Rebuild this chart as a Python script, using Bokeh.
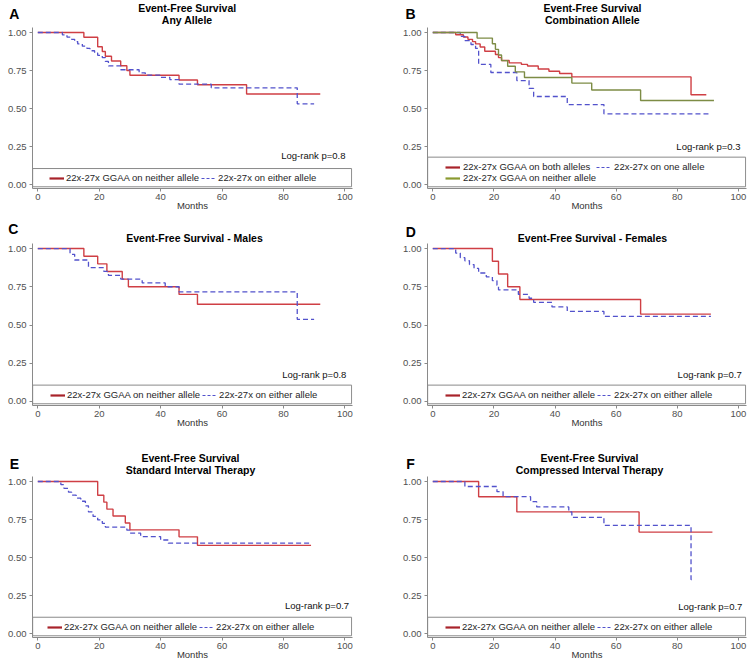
from bokeh.plotting import figure
from bokeh.models import Range1d, FixedTicker, Label, BoxAnnotation, Legend, LegendItem, PrintfTickFormatter
from bokeh.layouts import column, row
from bokeh.embed import file_html
from bokeh.resources import INLINE

FONT = "Liberation Sans"

# ---------------- data (months, survival probability) ----------------
x_ticks = [0, 20, 40, 60, 80, 100]
y_ticks = [0.0, 0.25, 0.5, 0.75, 1.0]

A_neither_t = [0, 15, 19.5, 21, 22, 24, 27, 29, 30, 46, 52, 68, 92]
A_neither_s = [1.0, 0.969, 0.906, 0.875, 0.844, 0.813, 0.781, 0.75, 0.719, 0.688, 0.656, 0.595, 0.595]
A_either_t = [0, 8, 9.5, 11, 12, 13, 14.5, 16, 17, 18.5, 19.5, 21, 22, 23, 27, 33, 35, 40, 43, 46, 56.5, 84.5, 90]
A_either_s = [1.0, 0.985, 0.97, 0.955, 0.94, 0.925, 0.91, 0.895, 0.88, 0.865, 0.85, 0.835, 0.81, 0.78,
              0.755, 0.735, 0.72, 0.705, 0.69, 0.66, 0.636, 0.531, 0.531]

B_both_t = [0, 7.5, 10, 11.5, 13, 14, 15.5, 17, 20.5, 21.5, 22.5, 25, 29, 31, 34.5, 38, 41.5, 45.5, 84.5, 89.5]
B_both_s = [1.0, 0.985, 0.97, 0.955, 0.94, 0.925, 0.905, 0.877, 0.855, 0.835, 0.816, 0.80, 0.79, 0.78,
            0.76, 0.745, 0.73, 0.708, 0.59, 0.59]
B_one_t = [0, 9, 10.5, 12.5, 14, 15, 19, 27.5, 31.5, 33, 44, 56, 91]
B_one_s = [1.0, 0.974, 0.947, 0.921, 0.895, 0.79, 0.737, 0.684, 0.632, 0.579, 0.526, 0.465, 0.465]
B_neither_t = [0, 14.5, 19.5, 20.5, 21.5, 22.5, 24.5, 27, 30, 45.5, 52, 68, 92]
B_neither_s = [1.0, 0.963, 0.926, 0.889, 0.852, 0.815, 0.778, 0.741, 0.704, 0.667, 0.622, 0.553, 0.553]

C_neither_t = [0, 15, 19.5, 22.5, 27.5, 29.5, 46, 52, 92]
C_neither_s = [1.0, 0.95, 0.90, 0.85, 0.80, 0.75, 0.70, 0.636, 0.636]
C_either_t = [0, 10.5, 12, 16.5, 21.5, 23, 27, 34, 41.5, 46, 84.5, 90]
C_either_s = [1.0, 0.962, 0.925, 0.875, 0.85, 0.825, 0.80, 0.775, 0.75, 0.716, 0.537, 0.537]

D_neither_t = [0, 19.5, 21.5, 24.5, 28.5, 68, 91]
D_neither_s = [1.0, 0.917, 0.833, 0.75, 0.667, 0.571, 0.571]
D_either_t = [0, 7.5, 9, 10.5, 12, 13.5, 15, 17.5, 19.5, 21, 21.5, 28, 31.5, 33, 39, 44, 56, 91]
D_either_s = [1.0, 0.97, 0.94, 0.92, 0.895, 0.87, 0.84, 0.815, 0.79, 0.76, 0.73, 0.70, 0.675, 0.648,
              0.618, 0.589, 0.556, 0.556]

E_neither_t = [0, 19.5, 21.5, 22.5, 24.5, 28.5, 30, 46, 52, 89]
E_neither_s = [1.0, 0.91, 0.864, 0.818, 0.773, 0.727, 0.682, 0.636, 0.58, 0.58]
E_either_t = [0, 7.5, 8.5, 10, 11, 12.5, 14, 15.5, 16.5, 18, 19.5, 21, 22, 29, 30, 33.5, 40, 42.5, 89]
E_either_s = [1.0, 0.98, 0.955, 0.93, 0.91, 0.89, 0.87, 0.84, 0.80, 0.77, 0.747, 0.725, 0.70, 0.68,
              0.66, 0.638, 0.615, 0.594, 0.594]

F_neither_t = [0, 15, 27.5, 67.5, 91.5]
F_neither_s = [1.0, 0.90, 0.80, 0.667, 0.667]
F_either_t = [0, 10.5, 21, 23, 32, 34, 44.5, 45.5, 56, 84.5, 85.5]
F_either_s = [1.0, 0.967, 0.933, 0.90, 0.867, 0.833, 0.80, 0.764, 0.711, 0.355, 0.355]

LBL_NEITHER = "22x-27x GGAA on neither allele"
LBL_EITHER = "22x-27x on either allele"
LBL_BOTH = "22x-27x GGAA on both alleles"
LBL_ONE = "22x-27x on one allele"

pvals = ["Log-rank p=0.8", "Log-rank p=0.3", "Log-rank p=0.8", "Log-rank p=0.7", "Log-rank p=0.7", "Log-rank p=0.7"]

letters = ["A", "B", "C", "D", "E", "F"]
titles = [["Event-Free Survival", "Any Allele"],
          ["Event-Free Survival", "Combination Allele"],
          ["Event-Free Survival - Males"],
          ["Event-Free Survival - Females"],
          ["Event-Free Survival", "Standard Interval Therapy"],
          ["Event-Free Survival", "Compressed Interval Therapy"]]

# ---------------- styles / geometry ----------------
RED = "#cf3f44"
BLUE = "#5252cc"
GREEN = "#7d8c45"
RED_LEG = "#a8232a"
GREEN_LEG = "#8a9a30"
AXIS = "#8a8a8a"
TOTAL_W = 750

COLS = [dict(width=395, bl=32, br=43, xr=(-1.73, 102.5)),
        dict(width=355, bl=32, br=4, xr=(-1.73, 102.65))]
# header strip height, then panel height with top/bottom borders (frames 161/162/161 px)
ROWS = [dict(hh=27, height=188, bt=0, bb=27),
        dict(hh=28, height=197, bt=0, bb=35),
        dict(hh=36, height=188, bt=0, bb=27)]

# header text positions: (x, vertical centre y) in pixels inside each header strip
HEAD = [
    dict(letters=[(13.8, 13.3), (410, 13.3)], title_x=[186.7, 592], title_y=[[7.3, 19.3], [7.3, 19.3]]),
    dict(letters=[(12.8, 13.3), (410.3, 16.7)], title_x=[194, 592], title_y=[[22.7], [22.7]]),
    dict(letters=[(13.8, 23.3), (410, 23.3)], title_x=[190, 589], title_y=[[17.7, 29.3], [17.9, 29.5]]),
]

series = {
    "A": [(A_neither_t, A_neither_s, "red", LBL_NEITHER), (A_either_t, A_either_s, "blue", LBL_EITHER)],
    "B": [(B_both_t, B_both_s, "red", LBL_BOTH), (B_one_t, B_one_s, "blue", LBL_ONE),
          (B_neither_t, B_neither_s, "green", LBL_NEITHER)],
    "C": [(C_neither_t, C_neither_s, "red", LBL_NEITHER), (C_either_t, C_either_s, "blue", LBL_EITHER)],
    "D": [(D_neither_t, D_neither_s, "red", LBL_NEITHER), (D_either_t, D_either_s, "blue", LBL_EITHER)],
    "E": [(E_neither_t, E_neither_s, "red", LBL_NEITHER), (E_either_t, E_either_s, "blue", LBL_EITHER)],
    "F": [(F_neither_t, F_neither_s, "red", LBL_NEITHER), (F_either_t, F_either_s, "blue", LBL_EITHER)],
}

panel_cfg = {
    "A": dict(lr=(100.2, 0.191), leg=(17, 5), box=0.105),
    "B": dict(lr=(100.7, 0.252), leg=(18, 5), box=0.18),
    "C": dict(lr=(100.5, 0.177), leg=(18, 5), box=0.107),
    "D": dict(lr=(101.1, 0.177), leg=(18, 5), box=0.107),
    "E": dict(lr=(101.4, 0.181), leg=(15, 5), box=0.107),
    "F": dict(lr=(101.3, 0.177), leg=(18, 5), box=0.107),
}

STYLE = {
    "red": dict(color=RED, width=1.4, dash="solid", lcolor=RED_LEG, lwidth=2.2, ldash="solid"),
    "blue": dict(color=BLUE, width=1.3, dash="5 3", lcolor=BLUE, lwidth=1.0, ldash="3 2"),
    "green": dict(color=GREEN, width=1.4, dash="solid", lcolor=GREEN_LEG, lwidth=2.2, ldash="solid"),
}


def make_header(r):
    h = ROWS[r]["hh"]
    cfg = HEAD[r]
    p = figure(width=TOTAL_W, height=h, x_range=Range1d(0, TOTAL_W), y_range=Range1d(h, 0),
               output_backend="svg", toolbar_location=None, min_border=0,
               x_axis_type=None, y_axis_type=None)
    p.outline_line_color = None
    p.grid.visible = False
    p.background_fill_color = "white"
    p.border_fill_color = "white"
    for ci in range(2):
        idx = r * 2 + ci
        lx, ly = cfg["letters"][ci]
        p.add_layout(Label(x=lx, y=ly, text=letters[idx], text_align="center",
                           text_baseline="middle", text_font=FONT, text_font_size="14px",
                           text_font_style="bold", text_color="#000000"))
        for txt, ty in zip(titles[idx], cfg["title_y"][ci]):
            p.add_layout(Label(x=cfg["title_x"][ci], y=ty, text=txt, text_align="center",
                               text_baseline="middle", text_font=FONT, text_font_size="10.5px",
                               text_font_style="bold", text_color="#000000"))
    return p


def make_panel(key, idx):
    cfg = panel_cfg[key]
    col = COLS[idx % 2]
    rw = ROWS[idx // 2]
    p = figure(width=col["width"], height=rw["height"],
               x_range=Range1d(*col["xr"]), y_range=Range1d(-0.0263, 1.0329),
               output_backend="svg", toolbar_location=None,
               min_border_left=col["bl"], min_border_right=col["br"],
               min_border_top=rw["bt"], min_border_bottom=rw["bb"])
    p.outline_line_color = None
    p.grid.visible = False
    p.background_fill_color = "white"
    p.border_fill_color = "white"

    p.xaxis.ticker = FixedTicker(ticks=x_ticks)
    p.yaxis.ticker = FixedTicker(ticks=y_ticks)
    p.yaxis.formatter = PrintfTickFormatter(format="%.2f")
    for ax in (p.xaxis, p.yaxis):
        ax.axis_line_color = AXIS
        ax.major_tick_line_color = AXIS
        ax.minor_tick_line_color = None
        ax.major_tick_in = 0
        ax.major_tick_out = 3
        ax.major_label_text_font = FONT
        ax.major_label_text_font_size = "9.5px"
        ax.major_label_text_color = "#505050"
    p.xaxis.major_label_standoff = 2
    p.yaxis.major_label_standoff = 3
    p.xaxis.axis_label = "Months"
    p.xaxis.axis_label_text_font = FONT
    p.xaxis.axis_label_text_font_size = "9.5px"
    p.xaxis.axis_label_text_font_style = "normal"
    p.xaxis.axis_label_text_color = "#333333"
    p.xaxis.axis_label_standoff = -3

    xs, xe = col["xr"]
    p.add_layout(BoxAnnotation(left=xs + 0.05, right=xe - 0.3, bottom=-0.015, top=cfg["box"],
                               fill_alpha=0, line_color=AXIS, line_alpha=1, line_width=1))

    items = []
    for t, s, kind, lab in series[key]:
        st = STYLE[kind]
        p.step(t, s, mode="after", line_color=st["color"], line_width=st["width"], line_dash=st["dash"])
        # legend swatch (same series, drawn only in the legend)
        lr = p.step(t, s, mode="after", line_color=st["lcolor"], line_width=st["lwidth"],
                    line_dash=st["ldash"], visible=False)
        items.append(LegendItem(label=lab, renderers=[lr]))

    multi = len(items) > 2
    leg = Legend(items=items, location=cfg["leg"], orientation="horizontal",
                 border_line_color=None, background_fill_alpha=0,
                 padding=0, margin=0, spacing=0 if multi else 2,
                 label_standoff=3 if multi else 2, glyph_width=15, glyph_height=10, label_height=10,
                 label_text_font=FONT, label_text_font_size="9.5px", label_text_color="#1e1e1e",
                 inactive_fill_alpha=0)
    if multi:
        leg.ncols = 2
    p.add_layout(leg)

    p.add_layout(Label(x=cfg["lr"][0], y=cfg["lr"][1], text=pvals[idx], text_align="right",
                       text_baseline="middle", text_font=FONT, text_font_size="9.5px",
                       text_color="#111111"))
    return p


keys = ["A", "B", "C", "D", "E", "F"]
panels = [make_panel(k, i) for i, k in enumerate(keys)]
children = []
for r in range(3):
    children.append(make_header(r))
    children.append(row(panels[2 * r], panels[2 * r + 1]))
layout = column(*children)

open("out.html", "w").write(file_html(layout, INLINE))
